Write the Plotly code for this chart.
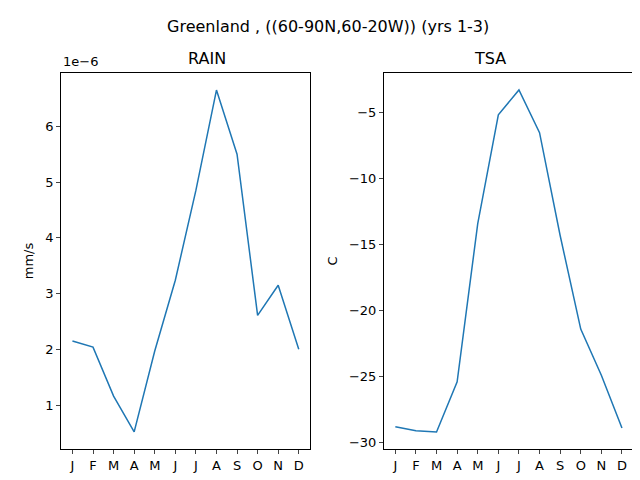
import plotly.graph_objects as go
from plotly.subplots import make_subplots

months = ["J", "F", "M", "A", "M", "J", "J", "A", "S", "O", "N", "D"]
idx = list(range(12))
rain = [2.15, 2.04, 1.16, 0.52, 1.97, 3.24, 4.85, 6.65, 5.5, 2.61, 3.15, 2.0]  # x 1e-6 mm/s
tsa = [-28.8, -29.1, -29.2, -25.4, -13.4, -5.15, -3.26, -6.5, -14.3, -21.4, -24.9, -28.9]

fig = make_subplots(rows=1, cols=2)
fig.add_trace(go.Scatter(x=idx, y=[r * 1e-6 for r in rain], mode="lines",
                         line=dict(color="#1f77b4", width=1.5)), row=1, col=1)
fig.add_trace(go.Scatter(x=idx, y=tsa, mode="lines",
                         line=dict(color="#1f77b4", width=1.5)), row=1, col=2)

axis_style = dict(showline=True, linecolor="black", mirror=True, ticks="outside", automargin=False,
                  ticklen=4, showgrid=False, zeroline=False, tickfont=dict(size=13, color="black"))
fig.update_xaxes(tickvals=idx, ticktext=months, range=[-0.55, 11.55], **axis_style)
fig.update_xaxes(domain=[0.083, 0.472], row=1, col=1)
fig.update_xaxes(domain=[0.5875, 0.977], row=1, col=2)
fig.update_yaxes(domain=[0.081, 0.865], **axis_style)
fig.update_yaxes(row=1, col=1, range=[0.21e-6, 6.96e-6],
                 tickvals=[i * 1e-6 for i in range(1, 7)], ticktext=[str(i) for i in range(1, 7)],
                 title=dict(text="mm/s", font=dict(size=13), standoff=8))
fig.update_yaxes(row=1, col=2, range=[-30.5, -1.96], tickvals=[-30, -25, -20, -15, -10, -5],
                 ticktext=["\u221230", "\u221225", "\u221220", "\u221215", "\u221210", "\u22125"],
                 title=dict(text="C", font=dict(size=13), standoff=8))

fig.add_annotation(text="RAIN", x=0.2775, y=0.87, xref="paper", yref="paper",
                   showarrow=False, yanchor="bottom", font=dict(size=16))
fig.add_annotation(text="TSA", x=0.782, y=0.87, xref="paper", yref="paper",
                   showarrow=False, yanchor="bottom", font=dict(size=16))
fig.add_annotation(text="1e\u22126", x=0.083, y=0.868, xref="paper", yref="paper",
                   showarrow=False, xanchor="left", yanchor="bottom", font=dict(size=13))
fig.add_annotation(text="Greenland , ((60-90N,60-20W)) (yrs 1-3)", x=0.5, y=0.985,
                   xref="paper", yref="paper", showarrow=False, yanchor="top",
                   font=dict(size=16))

fig.update_layout(
    width=640, height=480, showlegend=False,
    font=dict(family="DejaVu Sans", color="black"),
    plot_bgcolor="white", paper_bgcolor="white",
    margin=dict(l=0, r=0, t=0, b=0),
)
fig.write_html("out.html")
